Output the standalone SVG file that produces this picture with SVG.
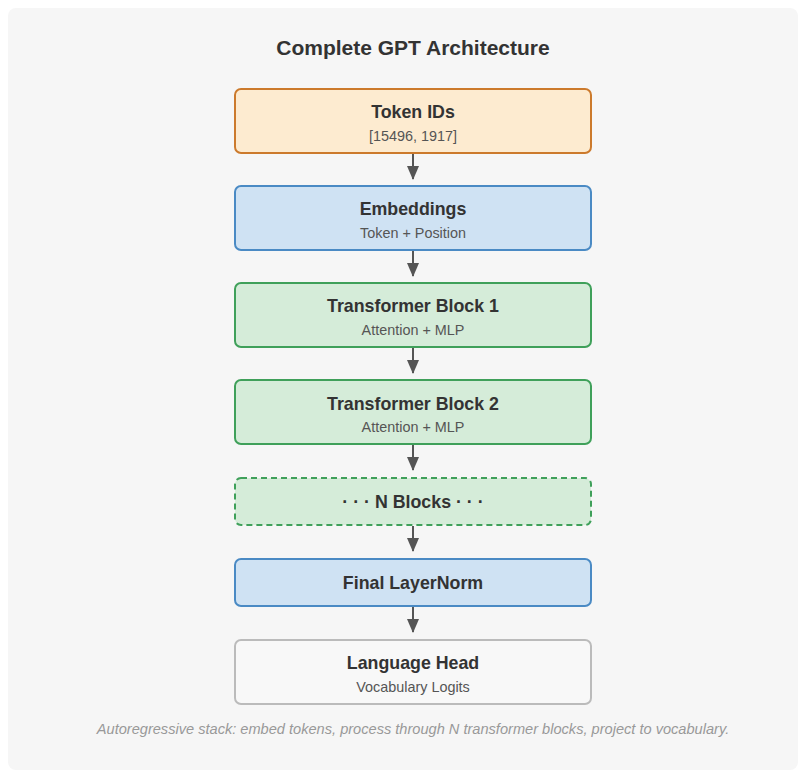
<svg xmlns="http://www.w3.org/2000/svg" width="806" height="778" viewBox="0 0 806 778">
  <defs>
    <style>
      .title { font-family: "Liberation Sans", Arial, sans-serif; font-size: 21px; font-weight: bold; fill: #333; text-anchor: middle; }
      .label { font-family: "Liberation Sans", Arial, sans-serif; font-size: 17.8px; font-weight: bold; fill: #333; text-anchor: middle; }
      .sub { font-family: "Liberation Sans", Arial, sans-serif; font-size: 14.4px; fill: #555; text-anchor: middle; }
      .caption { font-family: "Liberation Sans", Arial, sans-serif; font-size: 14.6px; font-style: italic; fill: #999; text-anchor: middle; }
      .box { stroke-width: 2; }
      .input { fill: #fdebd0; stroke: #cc7a2c; }
      .embed { fill: #cfe2f3; stroke: #4a8ac4; }
      .block { fill: #d5ecd9; stroke: #3fa05a; }
      .dashed { stroke-dasharray: 6 4; }
      .head { fill: #f8f8f8; stroke: #bbbbbb; }
      .edge { stroke: #555; stroke-width: 2; fill: none; }
    </style>
    <marker id="arrow" viewBox="0 0 14 12" refX="13" refY="6" markerWidth="14" markerHeight="12" markerUnits="userSpaceOnUse" orient="auto">
      <path d="M0,0 L14,6 L0,12 Z" fill="#555"/>
    </marker>
  </defs>

  <rect width="806" height="778" fill="#ffffff"/>
  <rect x="8" y="8" width="790" height="762" rx="8" fill="#f6f6f6"/>

  <text class="title" x="413" y="55">Complete GPT Architecture</text>

  <g id="connectors">
    <line class="edge" x1="413" y1="154" x2="413" y2="179" marker-end="url(#arrow)"/>
    <line class="edge" x1="413" y1="251" x2="413" y2="276" marker-end="url(#arrow)"/>
    <line class="edge" x1="413" y1="348" x2="413" y2="373" marker-end="url(#arrow)"/>
    <line class="edge" x1="413" y1="445" x2="413" y2="470" marker-end="url(#arrow)"/>
    <line class="edge" x1="413" y1="526" x2="413" y2="551" marker-end="url(#arrow)"/>
    <line class="edge" x1="413" y1="607" x2="413" y2="632" marker-end="url(#arrow)"/>
  </g>

  <g id="token-ids">
    <rect class="box input" x="235" y="89" width="356" height="64" rx="6"/>
    <text class="label" x="413" y="118">Token IDs</text>
    <text class="sub" x="413" y="141">[15496, 1917]</text>
  </g>

  <g id="embeddings">
    <rect class="box embed" x="235" y="186" width="356" height="64" rx="6"/>
    <text class="label" x="413" y="215">Embeddings</text>
    <text class="sub" x="413" y="238">Token + Position</text>
  </g>

  <g id="transformer-block-1">
    <rect class="box block" x="235" y="283" width="356" height="64" rx="6"/>
    <text class="label" x="413" y="312">Transformer Block 1</text>
    <text class="sub" x="413" y="335">Attention + MLP</text>
  </g>

  <g id="transformer-block-2">
    <rect class="box block" x="235" y="380" width="356" height="64" rx="6"/>
    <text class="label" x="413" y="410">Transformer Block 2</text>
    <text class="sub" x="413" y="432">Attention + MLP</text>
  </g>

  <g id="n-blocks">
    <rect class="box block dashed" x="235" y="478" width="356" height="47" rx="6"/>
    <text class="label" x="413" y="508">· · · N Blocks · · ·</text>
  </g>

  <g id="final-layernorm">
    <rect class="box embed" x="235" y="559" width="356" height="47" rx="6"/>
    <text class="label" x="413" y="589">Final LayerNorm</text>
  </g>

  <g id="language-head">
    <rect class="box head" x="235" y="640" width="356" height="64" rx="6"/>
    <text class="label" x="413" y="669">Language Head</text>
    <text class="sub" x="413" y="692">Vocabulary Logits</text>
  </g>

  <text class="caption" x="413" y="734">Autoregressive stack: embed tokens, process through N transformer blocks, project to vocabulary.</text>
</svg>
